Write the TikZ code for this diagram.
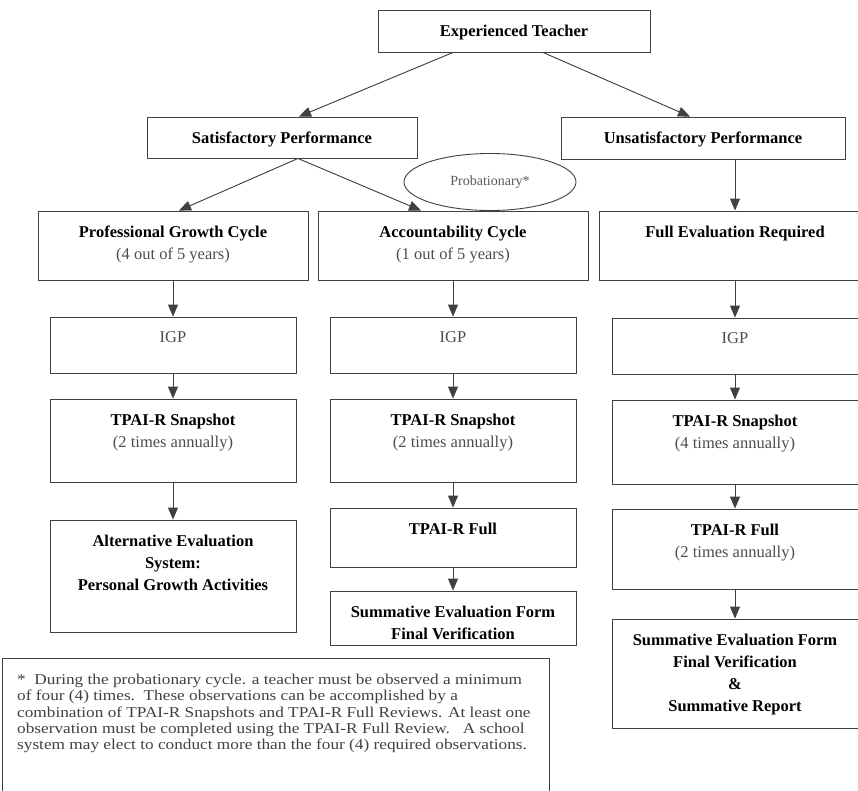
\documentclass[tikz,border=0pt]{standalone}
\usepackage{fontspec}
\setmainfont{Liberation Serif}
\newfontfamily\notefont[FakeStretch=1.15]{Liberation Serif}
\usetikzlibrary{shapes.geometric,arrows.meta}
\newcommand{\subline}[1]{{\mdseries\color{black!70}#1}}

\begin{document}
\begin{tikzpicture}[x=1pt,y=-1pt,
  box/.style={draw=black!75,line width=0.9pt,inner sep=0pt},
  txt/.style={anchor=north,inner sep=0pt,yshift=-15pt,align=center,
    font=\fontsize{16.5}{22}\selectfont\bfseries},
  arr/.style={-{Triangle[length=12pt,width=10pt]},draw=black!75,fill=black!75,line width=0.9pt}]
\useasboundingbox (0,0) rectangle (858,790);
\node[box,minimum width=272pt,minimum height=42pt,label={[txt]north:{Experienced Teacher}}] (et) at (514,31) {};
\node[box,minimum width=270pt,minimum height=41pt,label={[txt]north:{Satisfactory Performance}}] (sat) at (282,137.5) {};
\node[box,minimum width=284pt,minimum height=42pt,label={[txt]north:{Unsatisfactory Performance}}] (unsat) at (703,138) {};
\node[box,ellipse,fill=white,minimum width=172pt,minimum height=57pt,text=black!65,
  font=\fontsize{14}{16}\selectfont] (prob) at (490,182) {Probationary*};
% cycles
\node[box,minimum width=270pt,minimum height=69pt,label={[txt]north:{Professional Growth Cycle\\\subline{(4 out of 5 years)}}}] (pgc) at (173,245.5) {};
\node[box,minimum width=270pt,minimum height=69pt,label={[txt]north:{Accountability Cycle\\\subline{(1 out of 5 years)}}}] (acc) at (453,245.5) {};
\node[box,minimum width=272pt,minimum height=69pt,label={[txt]north:{Full Evaluation Required}}] (fer) at (735,245.5) {};
\node[box,minimum width=246pt,minimum height=56pt,label={[txt]north:{\subline{IGP}}}] (igpA) at (173,345) {};
\node[box,minimum width=246pt,minimum height=56pt,label={[txt]north:{\subline{IGP}}}] (igpB) at (453,345) {};
\node[box,minimum width=246pt,minimum height=56pt,label={[txt]north:{\subline{IGP}}}] (igpC) at (735,346) {};
\node[box,minimum width=246pt,minimum height=83pt,label={[txt]north:{TPAI-R Snapshot\\\subline{(2 times annually)}}}] (snapA) at (173,440.5) {};
\node[box,minimum width=246pt,minimum height=83pt,label={[txt]north:{TPAI-R Snapshot\\\subline{(2 times annually)}}}] (snapB) at (453,440.5) {};
\node[box,minimum width=246pt,minimum height=84pt,label={[txt]north:{TPAI-R Snapshot\\\subline{(4 times annually)}}}] (snapC) at (735,442) {};
\node[box,minimum width=246pt,minimum height=112pt,label={[txt]north:{Alternative Evaluation\\System:\\Personal Growth Activities}}] (alt) at (173,576) {};
\node[box,minimum width=246pt,minimum height=59pt,label={[txt]north:{TPAI-R Full}}] (fullB) at (453,537.5) {};
\node[box,minimum width=246pt,minimum height=80pt,label={[txt]north:{TPAI-R Full\\\subline{(2 times annually)}}}] (fullC) at (735,549) {};
\node[box,minimum width=246pt,minimum height=54pt,label={[txt]north:{Summative Evaluation Form\\Final Verification}}] (sumB) at (453,618) {};
\node[box,minimum width=246pt,minimum height=109pt,label={[txt]north:{Summative Evaluation Form\\Final Verification\\\&\\Summative Report}}] (sumC) at (735,673.5) {};
\node[box,anchor=north west,minimum width=547pt,minimum height=140pt,
  label={[anchor=north west,inner sep=0pt,xshift=15pt,yshift=-16pt,align=left,text=black!75,
    font=\notefont\fontsize{15}{16.2}\selectfont]north west:{*\ \ During the probationary cycle. a teacher must be observed a minimum\\
of four (4) times.\ \ These observations can be accomplished by a\\
combination of TPAI-R Snapshots and TPAI-R Full Reviews. At least one\\
observation must be completed using the TPAI-R Full Review.\ \ \ A school\\
system may elect to conduct more than the four (4) required observations.}}] (note) at (2,658) {};
% arrows
\draw[arr] ([xshift=-61pt]et.south) -- ([xshift=17pt]sat.north);
\draw[arr] ([xshift=29pt]et.south) -- ([xshift=-13pt]unsat.north);
\draw[arr] ([xshift=16pt]sat.south) -- ([xshift=6pt]pgc.north);
\draw[arr] ([xshift=16pt]sat.south) -- ([xshift=-32pt]acc.north);
\draw[arr] (unsat.south -| fer.north) -- (fer.north);
\draw[arr] (pgc) -- (igpA);
\draw[arr] (acc) -- (igpB);
\draw[arr] (fer) -- (igpC);
\draw[arr] (igpA) -- (snapA);
\draw[arr] (igpB) -- (snapB);
\draw[arr] (igpC) -- (snapC);
\draw[arr] (snapA) -- (alt);
\draw[arr] (snapB) -- (fullB);
\draw[arr] (snapC) -- (fullC);
\draw[arr] (fullB) -- (sumB);
\draw[arr] (fullC) -- (sumC);
\end{tikzpicture}
\end{document}
